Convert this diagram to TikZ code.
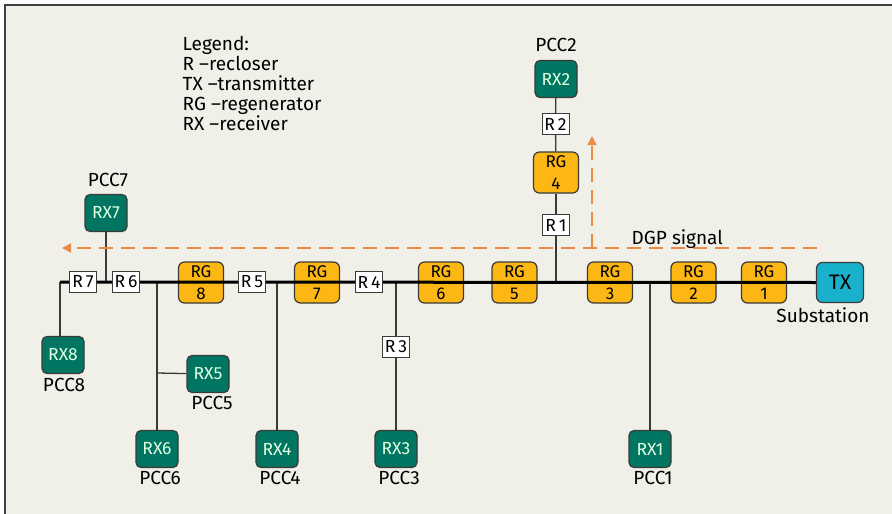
\documentclass[tikz,border=0pt]{standalone}
\usepackage{fontspec}
\setmainfont{Fira Sans}
\usetikzlibrary{arrows.meta}
\definecolor{bgc}{HTML}{F0EFE8}
\definecolor{rxgreen}{HTML}{007662}
\definecolor{rgyellow}{HTML}{FDB714}
\definecolor{txcyan}{HTML}{18B0CA}
\definecolor{dgporange}{HTML}{EA8A45}
\definecolor{edgec}{HTML}{3A3A3A}
\pgfdeclarelayer{wirelayer}
\pgfdeclarelayer{rglayer}
\pgfdeclarelayer{buslayer}
\pgfsetlayers{wirelayer,rglayer,buslayer,main}
\begin{document}
\begin{tikzpicture}[x=1pt,y=-1pt,
 rx/.style={draw=edgec, line width=1.2pt, fill=rxgreen, rounded corners=5pt, minimum width=42pt, minimum height=37pt, inner sep=0pt, text=white!88!green, font=\fontsize{17.5}{17.5}\selectfont},
 rg/.style={draw=edgec, line width=1.2pt, fill=rgyellow, rounded corners=6pt, minimum width=45pt, minimum height=41pt, inner sep=0pt, align=center, font=\fontsize{17}{22}\selectfont},
 txbox/.style={draw=edgec, line width=1.2pt, fill=txcyan, rounded corners=6pt, minimum width=47pt, minimum height=40pt, inner sep=0pt, font=\fontsize{21}{21}\selectfont},
 rbox/.style={draw=edgec, line width=1pt, fill=white, minimum width=27pt, minimum height=21pt, inner sep=0pt, font=\fontsize{17.5}{17.5}\selectfont},
 lbl/.style={font=\fontsize{19}{19}\selectfont, inner sep=0pt},
 wire/.style={draw=edgec, line width=1.3pt},
 bus/.style={draw=black, line width=3pt},
 dgp/.style={draw=dgporange, line width=1.5pt, dash pattern=on 14pt off 8pt}
]
\useasboundingbox (0,0) rectangle (892,514);
\begin{pgfonlayer}{wirelayer}
\fill[white] (0,0) rectangle (892,514);
\fill[bgc] (5,5) rectangle (892,514);
\draw[gray!50!black, line width=1.5pt] (5,514) -- (5,5) -- (892,5);
\end{pgfonlayer}

% legend
\node[lbl, anchor=base west] (leg1) at (182.5,50) {Legend:};
\node[lbl, anchor=base west] (leg2) at (182.5,70) {R –recloser};
\node[lbl, anchor=base west] (leg3) at (182.5,90) {TX –transmitter};
\node[lbl, anchor=base west] (leg4) at (182.5,110) {RG –regenerator};
\node[lbl, anchor=base west] (leg5) at (182.5,130) {RX –receiver};

% RG boxes
\begin{pgfonlayer}{rglayer}
\node[rg] (RG1) at (764,282.5) {RG\\1};
\node[rg] (RG2) at (693.5,282.5) {RG\\2};
\node[rg] (RG3) at (610,282.5) {RG\\3};
\node[rg] (RG5) at (514.5,282.5) {RG\\5};
\node[rg] (RG6) at (441,282.5) {RG\\6};
\node[rg] (RG7) at (317,282.5) {RG\\7};
\node[rg] (RG8) at (201,282.5) {RG\\8};
\end{pgfonlayer}
\node[rg] (RG4) at (556,172.5) {RG\\4};

% TX
\node[txbox] (TX) at (840,282.5) {TX};
\node[lbl] (sub) at (823,315) {Substation};

% reclosers
\node[rbox] (R1) at (556,225) {R\,1};
\node[rbox] (R2) at (555.5,124) {R\,2};
\node[rbox] (R3) at (396,347) {R\,3};
\node[rbox] (R4) at (369,282) {R\,4};
\node[rbox] (R5) at (252,282) {R\,5};
\node[rbox] (R6) at (126,282) {R\,6};
\node[rbox] (R7) at (83,282) {R\,7};

% receivers
\node[rx] (RX1) at (650,449) {RX1};
\node[rx] (RX2) at (556,79) {RX2};
\node[rx] (RX3) at (396,449) {RX3};
\node[rx] (RX4) at (277,449) {RX4};
\node[rx] (RX5) at (208,374) {RX5};
\node[rx] (RX6) at (157,449) {RX6};
\node[rx] (RX7) at (106,213) {RX7};
\node[rx] (RX8) at (63,355) {RX8};

\node[lbl] (P1) at (653,478) {PCC1};
\node[lbl] (P2) at (556,45) {PCC2};
\node[lbl] (P3) at (399,478) {PCC3};
\node[lbl] (P4) at (280,478) {PCC4};
\node[lbl] (P5) at (212,403) {PCC5};
\node[lbl] (P6) at (160,478) {PCC6};
\node[lbl] (P7) at (108,180) {PCC7};
\node[lbl] (P8) at (64,385) {PCC8};

% junctions
\coordinate (busL) at (60,282);
\coordinate (J1) at (556,282);
\coordinate (J0) at (650,282);
\coordinate (J3) at (396,282);
\coordinate (J4) at (277,282);
\coordinate (J6) at (157,282);
\coordinate (J5) at (157,373);
\coordinate (J7) at (106,282);
\coordinate (J8) at (60,337);

\begin{pgfonlayer}{wirelayer}
\draw[wire] (RX2) -- (R2);
\draw[wire] (R2) -- (RG4);
\draw[wire] (RG4) -- (R1);
\draw[wire] (R1) -- (J1);
\draw[wire] (J0) -- (RX1);
\draw[wire] (J3) -- (R3);
\draw[wire] (R3) -- (RX3);
\draw[wire] (J4) -- (RX4);
\draw[wire] (J6) -- (RX6);
\draw[wire] (J5) -- (RX5);
\draw[wire] (RX7) -- (J7);
\draw[wire] (busL) -- (J8);
\end{pgfonlayer}

\begin{pgfonlayer}{buslayer}
\draw[bus] (busL) -- (TX.west);
\end{pgfonlayer}

% DGP signal
\coordinate (dgpS) at (817,248);
\coordinate (dgpE) at (62,248);
\coordinate (dgpJ) at (592,248);
\coordinate (dgpU) at (592,136);
\draw[dgp, -{Triangle[length=9pt,width=9pt]}] (dgpS) -- (dgpE);
\draw[dgp, -{Triangle[length=9pt,width=9pt]}] (dgpJ) -- (dgpU);
\node[lbl, anchor=base west] (dgplbl) at (631.5,244) {DGP signal};
\end{tikzpicture}
\end{document}
